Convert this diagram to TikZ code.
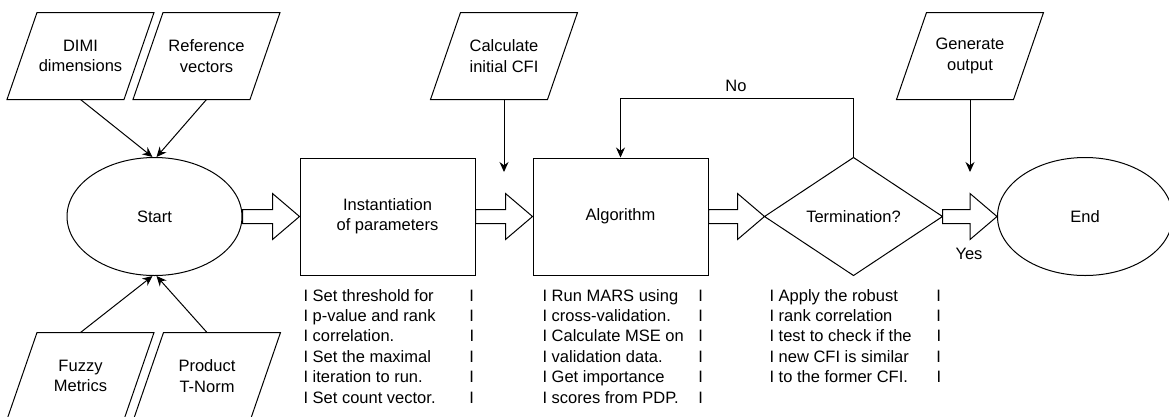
\documentclass[tikz,border=0pt]{standalone}
\usepackage{fontspec}
\setmainfont{Liberation Sans}
\usetikzlibrary{arrows.meta,calc,shapes.geometric}
\newcommand{\paraoutline}[1]{\draw ([xshift=30pt]#1.north west) -- (#1.north east) -- ([xshift=-30pt]#1.south east) -- (#1.south west) -- cycle;}
\newcommand{\blockarrow}[2]{\draw[blk] ($(#1.east)+(0,-7)$) -- ($(#2.west)+(-27,-7)$) -- ($(#2.west)+(-27,-23)$) -- (#2.west) -- ($(#2.west)+(-27,23)$) -- ($(#2.west)+(-27,7)$) -- ($(#1.east)+(0,7)$) -- cycle;}
\begin{document}
\begin{tikzpicture}[x=1pt,y=-1pt,
  font=\fontsize{16.5}{20.4}\selectfont,
  line width=1pt,
  procbox/.style={draw, minimum width=175pt, minimum height=117pt, align=center, inner sep=0pt},
  oval/.style={draw, ellipse, minimum width=175pt, minimum height=118pt, inner sep=0pt},
  parabox/.style={minimum width=146pt, minimum height=86pt, align=center, inner sep=0pt},
  arr/.style={-{Stealth[length=10pt,width=9pt]}},
  blk/.style={draw, fill=white, line join=miter},
  note/.style={anchor=base west, inner sep=0pt, align=left},
  lbl/.style={inner sep=0pt}]
\useasboundingbox (0,0) rectangle (1169,416);
\clip (0,0) rectangle (1169,416);

% input parallelograms
\node[parabox] (dimi) at (80.5,56) {DIMI\\dimensions};
\node[parabox] (refv) at (206.5,56) {Reference\\vectors};
\node[parabox] (fuzzy) at (80.5,376) {Fuzzy\\Metrics};
\node[parabox] (tnorm) at (207,376) {Product\\T-Norm};
\node[parabox] (calc) at (504,56) {Calculate\\initial CFI};
\node[parabox] (gen) at (970,56) {Generate\\output};
\paraoutline{dimi}
\paraoutline{refv}
\paraoutline{fuzzy}
\paraoutline{tnorm}
\paraoutline{calc}
\paraoutline{gen}

% main row
\node[oval] (start) at (154.5,216.5) {Start};
\node[procbox] (inst) at (387.5,216.5) {Instantiation\\of parameters};
\node[procbox] (alg) at (620.5,216.5) {Algorithm};
\node[minimum width=177pt, minimum height=117pt, inner sep=0pt] (term) at (853.5,216.5) {Termination?};
\draw (term.west) -- (term.north) -- (term.east) -- (term.south) -- cycle;
\node[oval] (end) at (1085,216.5) {End};

% block arrows
\blockarrow{start}{inst}
\blockarrow{inst}{alg}
\blockarrow{alg}{term}
\blockarrow{term}{end}

% thin arrows
\draw[arr] (dimi.south) -- ([xshift=-2pt]start.north);
\draw[arr] (refv.south) -- ([xshift=2pt]start.north);
\draw[arr] (fuzzy.north) -- ([xshift=-2pt]start.south);
\draw[arr] (tnorm.north) -- ([xshift=2pt]start.south);
\coordinate (calcend) at (504,172);
\draw[arr] (calc.south) -- (calcend);
\coordinate (genend) at (970,172);
\draw[arr] (gen.south) -- (genend);
\draw[arr] (term.north) -- ++(0,-59) -| (alg.north);

% labels
\node[lbl] (no) at (736,86) {No};
\node[lbl] (yes) at (969,254) {Yes};

% notes
\node[note] (instnote) at (303,301) {\begin{tabular}[t]{@{}p{166pt}@{}l@{}}
I Set threshold for & I\\
I p-value and rank & I\\
I correlation. & I\\
I Set the maximal & I\\
I iteration to run. & I\\
I Set count vector. & I
\end{tabular}};
\node[note] (algnote) at (542,301) {\begin{tabular}[t]{@{}p{156pt}@{}l@{}}
I Run MARS using & I\\
I cross-validation. & I\\
I Calculate MSE on & I\\
I validation data. & I\\
I Get importance & I\\
I scores from PDP. & I
\end{tabular}};
\node[note] (termnote) at (769,301) {\begin{tabular}[t]{@{}p{167pt}@{}l@{}}
I Apply the robust & I\\
I rank correlation & I\\
I test to check if the & I\\
I new CFI is similar & I\\
I to the former CFI. & I
\end{tabular}};
\end{tikzpicture}
\end{document}
